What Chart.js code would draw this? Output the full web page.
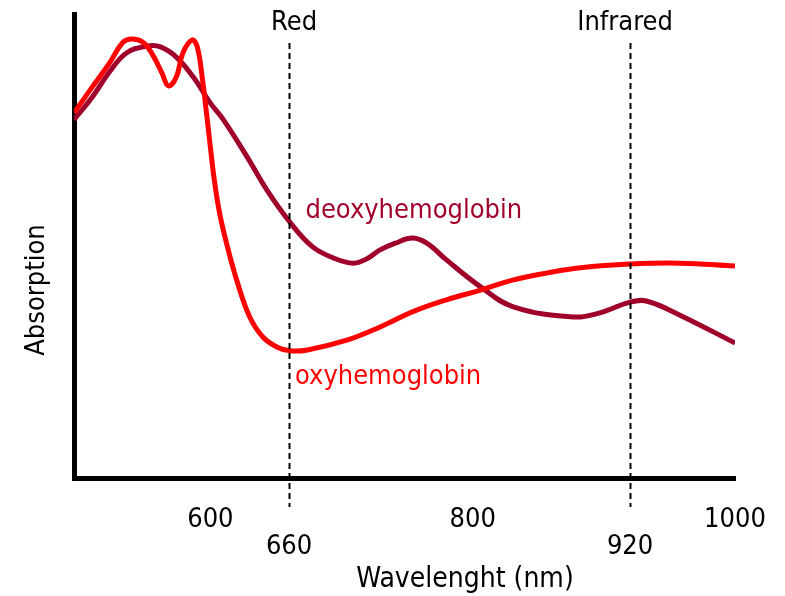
<!DOCTYPE html>
<html>
<head>
<meta charset="utf-8">
<script src="https://cdn.jsdelivr.net/npm/chart.js@4.4.1/dist/chart.umd.min.js"></script>
<style>
    html, body { margin: 0; padding: 0; background: #fff; }
    #wrap { width: 785px; height: 596px; }
</style>
</head>
<body>
<div id="wrap"><canvas id="absorptionChart"></canvas></div>
<script>
// wavelength (nm) / absorption (arbitrary units, 0-100)
var oxyWavelength = [496, 510, 523, 533, 540, 549, 556, 563, 568, 574, 579, 586, 590, 594, 597, 600, 603, 607, 613, 620, 630, 640, 651, 661, 674, 704, 729, 754, 780, 806, 831, 857, 882, 920, 958, 1000];
var oxyAbsorption = [78.7, 84.3, 89.4, 93.8, 94.6, 93.8, 91.2, 87.3, 84.5, 86.4, 91.6, 94.4, 92.9, 85.8, 78.7, 71.3, 64.2, 57.1, 49.8, 42.7, 34.7, 30.4, 28.2, 27.4, 27.6, 29.7, 32.5, 35.8, 38.4, 40.5, 42.7, 44.2, 45.3, 46.1, 46.3, 45.7];

var deoxyWavelength = [496, 510, 523, 536, 552, 562, 574, 587, 600, 610, 628, 643, 661, 678, 694, 709, 719, 729, 741, 754, 765, 780, 806, 831, 877, 897, 920, 933, 958, 1000];
var deoxyAbsorption = [77.2, 82.1, 87.5, 91.6, 93.1, 92.9, 90.7, 86.4, 80.8, 77.2, 69.2, 62.1, 55.0, 49.8, 47.4, 46.3, 47.2, 49.1, 50.6, 51.7, 50.6, 47.0, 41.2, 36.9, 34.7, 35.6, 37.9, 38.1, 35.1, 29.1];

var tickValues = [600, 660, 800, 920, 1000];
var lowerRowTicks = [660, 920];

var markerValues = [660, 920];
var markerLabels = ["Red", "Infrared"];

var oxyColor = "#ff0000";
var deoxyColor = "#a0002c";
var fontFamily = "'DejaVu Sans Condensed', 'DejaVu Sans', sans-serif";

function toPoints(xs, ys) {
    return xs.map(function(x, i) { return {x: x, y: ys[i]}; });
}

// dashed markers, curve names and axis titles
var annotations = {
    id: 'annotations',
    afterDatasetsDraw: function(chart) {
        var ctx = chart.ctx;
        var area = chart.chartArea;
        var xs = chart.scales.x;
        var ys = chart.scales.y;

        ctx.save();
        ctx.strokeStyle = "#000";
        ctx.lineWidth = 2;
        ctx.setLineDash([6, 4]);
        markerValues.forEach(function(v, i) {
            var px = Math.round(xs.getPixelForValue(v)) + 0.5;
            ctx.beginPath();
            ctx.moveTo(px, area.top + 29);
            ctx.lineTo(px, area.bottom + 29);
            ctx.stroke();
        });
        ctx.setLineDash([]);

        ctx.font = "27px " + fontFamily;
        ctx.fillStyle = "#000";
        ctx.textAlign = "center";
        ctx.textBaseline = "alphabetic";
        markerValues.forEach(function(v, i) {
            var shift = i === 0 ? 5 : -5;
            ctx.fillText(markerLabels[i], xs.getPixelForValue(v) + shift, 30);
        });

        ctx.textAlign = "left";
        ctx.fillStyle = deoxyColor;
        ctx.fillText("deoxyhemoglobin", xs.getPixelForValue(672.5), ys.getPixelForValue(56));
        ctx.fillStyle = oxyColor;
        ctx.fillText("oxyhemoglobin", xs.getPixelForValue(664.5), ys.getPixelForValue(20.3));

        ctx.fillStyle = "#000";
        ctx.font = "28px " + fontFamily;
        ctx.textAlign = "center";
        ctx.fillText("Wavelenght (nm)", 465, 587);

        ctx.translate(37, 290);
        ctx.rotate(-Math.PI / 2);
        ctx.textBaseline = "middle";
        ctx.font = "27px " + fontFamily;
        ctx.fillText("Absorption", 0, 0);
        ctx.restore();
    }
};

var ctx = document.getElementById('absorptionChart').getContext('2d');
var chart = new Chart(ctx, {
    type: 'line',
    data: {
        datasets: [{
            label: "oxyhemoglobin",
            data: toPoints(oxyWavelength, oxyAbsorption),
            borderColor: oxyColor,
            borderWidth: 5,
            pointRadius: 0,
            tension: 0.4
        }, {
            label: "deoxyhemoglobin",
            data: toPoints(deoxyWavelength, deoxyAbsorption),
            borderColor: deoxyColor,
            borderWidth: 5,
            pointRadius: 0,
            tension: 0.4
        }]
    },
    options: {
        responsive: true,
        maintainAspectRatio: false,
        animation: false,
        layout: {
            padding: {left: 74, right: 50, top: 14, bottom: 8}
        },
        plugins: {
            legend: {display: false},
            tooltip: {enabled: false}
        },
        scales: {
            x: {
                type: 'linear',
                min: 496,
                max: 1000,
                afterBuildTicks: function(scale) {
                    scale.ticks = tickValues.map(function(v) { return {value: v}; });
                },
                afterFit: function(scale) {
                    // the 1000 label may overhang, layout padding already leaves room
                    scale.paddingLeft = 0;
                    scale.paddingRight = 0;
                },
                grid: {display: false, drawTicks: false},
                border: {display: true, color: '#000', width: 5},
                ticks: {
                    autoSkip: false,
                    maxRotation: 0,
                    padding: 28,
                    color: '#000',
                    font: {family: fontFamily, size: 27, lineHeight: 1},
                    callback: function(value) {
                        var s = String(value);
                        return lowerRowTicks.indexOf(value) >= 0 ? ['', s] : [s, ''];
                    }
                }
            },
            y: {
                min: 0,
                max: 100,
                grid: {display: false, drawTicks: false},
                border: {display: true, color: '#000', width: 5},
                ticks: {display: false}
            }
        }
    },
    plugins: [annotations]
});
</script>
</body>
</html>
